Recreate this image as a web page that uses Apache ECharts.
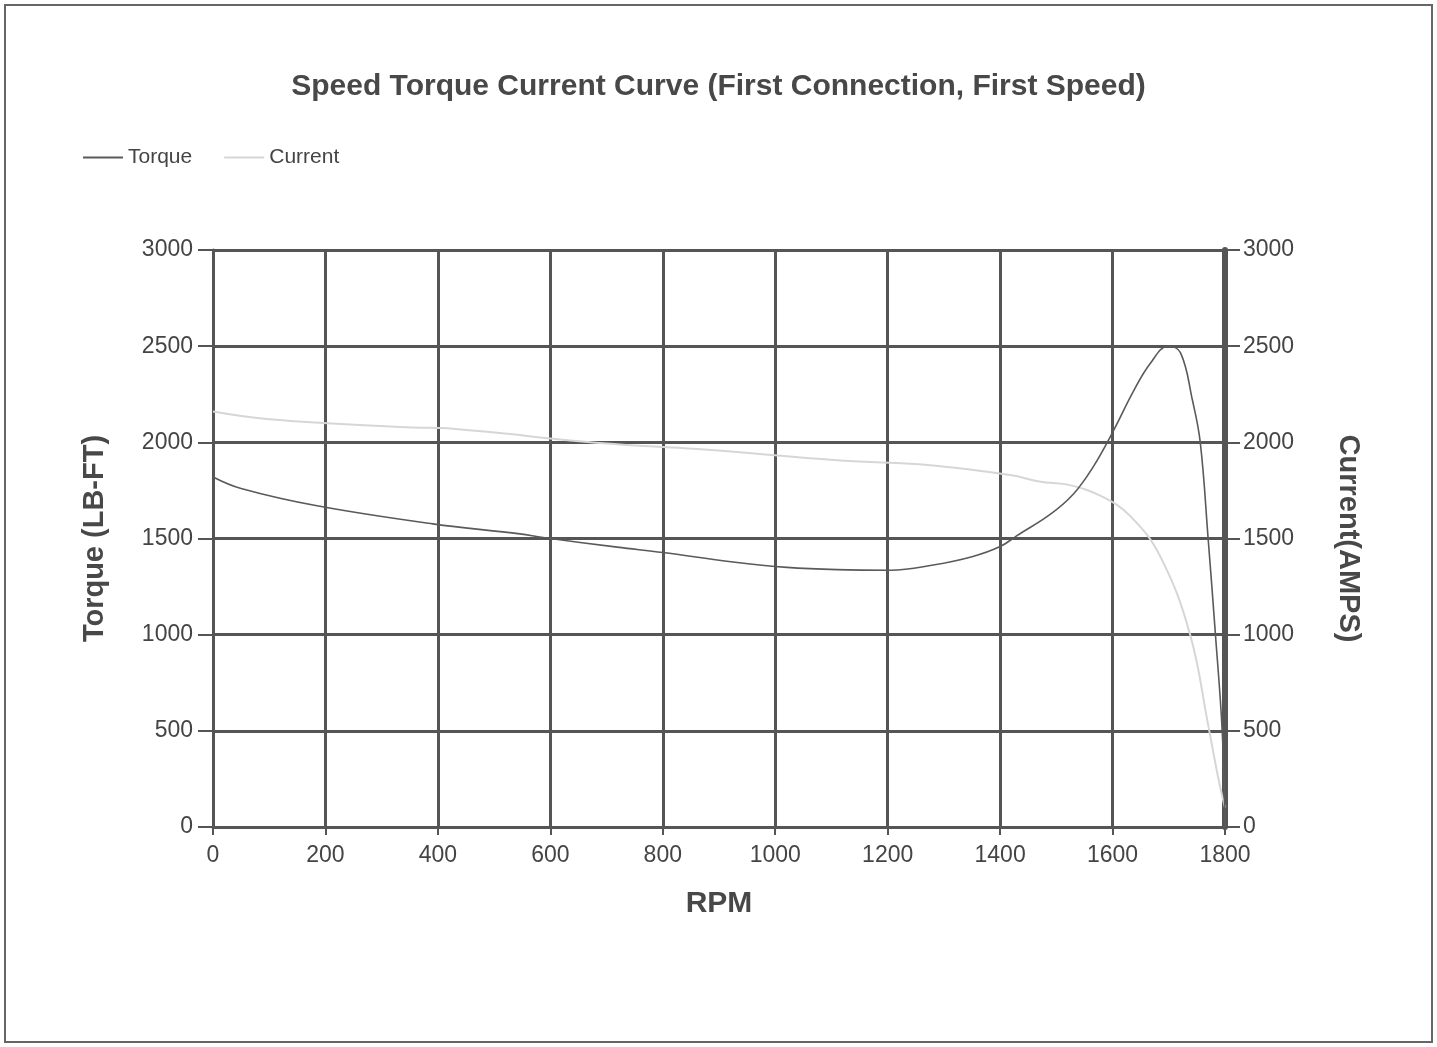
<!DOCTYPE html>
<html>
<head>
<meta charset="utf-8">
<script src="https://cdn.jsdelivr.net/npm/echarts@6/dist/echarts.min.js"></script>
<style>
html,body{margin:0;padding:0;background:#fff;}
#c{width:1437px;height:1047px;}
</style>
</head>
<body>
<div id="c"></div>
<script>
// RPM values and torque (LB-FT)
const torqueRpm = [0, 50, 185, 391, 546, 587, 719, 800, 925, 1021, 1110, 1205, 1281, 1350, 1400, 1430, 1489, 1530, 1565, 1601, 1637, 1667, 1699, 1721, 1742, 1756, 1770, 1783, 1795, 1800];
const torqueVal = [1820, 1760, 1670, 1576, 1524, 1505, 1455, 1427, 1378, 1350, 1338, 1335, 1362, 1405, 1458, 1515, 1625, 1730, 1870, 2057, 2265, 2410, 2500, 2465, 2220, 2000, 1500, 1000, 500, 0];
// RPM values and current (AMPS)
const currentRpm = [0, 100, 345, 427, 694, 861, 1116, 1281, 1418, 1472, 1520, 1580, 1632, 1685, 1738, 1770, 1788, 1800];
const currentVal = [2160, 2120, 2078, 2070, 1995, 1965, 1906, 1880, 1830, 1795, 1780, 1720, 1615, 1406, 1000, 531, 255, 100];
// axis ticks
const xTicks = [0, 200, 400, 600, 800, 1000, 1200, 1400, 1600, 1800];
const yTicks = [0, 500, 1000, 1500, 2000, 2500, 3000];

const pair = (xs, ys) => xs.map((x, i) => [x, ys[i]]);
const FONT = 'Liberation Sans, Arial, sans-serif';
const chart = echarts.init(document.getElementById('c'), null, {renderer: 'canvas'});
const lab = {color: '#444', fontSize: 23, fontFamily: FONT, formatter: v => String(v)};
chart.setOption({
  backgroundColor: '#fff',
  animation: false,
  title: {
    text: 'Speed Torque Current Curve (First Connection, First Speed)',
    left: 'center', top: 67,
    textStyle: {fontFamily: FONT, fontSize: 30, fontWeight: 'bold', color: '#484848'}
  },
  legend: {
    left: 78, top: 142, itemWidth: 40, itemHeight: 12, itemGap: 32,
    icon: 'path://M0,5 L40,5 L40,7 L0,7 Z',
    textStyle: {fontFamily: FONT, fontSize: 21, color: '#444'},
    data: ['Torque', 'Current']
  },
  grid: {left: 213, right: 212, top: 250, bottom: 220, containLabel: false},
  xAxis: {
    type: 'value', min: xTicks[0], max: xTicks[xTicks.length - 1], interval: 200,
    name: 'RPM', nameLocation: 'middle', nameGap: 62,
    nameTextStyle: {fontFamily: FONT, fontSize: 30, fontWeight: 'bold', color: '#484848'},
    axisLine: {lineStyle: {color: '#555', width: 3}},
    axisTick: {show: true, length: 8, lineStyle: {color: '#555', width: 2}},
    axisLabel: Object.assign({margin: 17}, lab),
    splitLine: {show: true, lineStyle: {color: '#555', width: 3}}
  },
  yAxis: [{
    type: 'value', min: yTicks[0], max: yTicks[yTicks.length - 1], interval: 500, position: 'left',
    name: 'Torque (LB-FT)', nameLocation: 'middle', nameGap: 104,
    nameTextStyle: {fontFamily: FONT, fontSize: 29, fontWeight: 'bold', color: '#484848'},
    axisLine: {show: true, lineStyle: {color: '#555', width: 3}},
    axisTick: {show: true, length: 15, lineStyle: {color: '#555', width: 2}},
    axisLabel: Object.assign({margin: 20}, lab),
    splitLine: {show: true, lineStyle: {color: '#555', width: 3}}
  }, {
    type: 'value', min: yTicks[0], max: yTicks[yTicks.length - 1], interval: 500, position: 'right',
    name: 'Current(AMPS)', nameLocation: 'middle', nameGap: 108, nameRotate: -90,
    nameTextStyle: {fontFamily: FONT, fontSize: 29, fontWeight: 'bold', color: '#484848'},
    axisLine: {show: true, lineStyle: {color: '#555', width: 6}},
    axisTick: {show: true, length: 15, lineStyle: {color: '#555', width: 2}},
    axisLabel: Object.assign({margin: 18}, lab),
    splitLine: {show: false}
  }],
  series: [{
    name: 'Torque', type: 'line', yAxisIndex: 0, smooth: 0.4, symbol: 'none',
    lineStyle: {color: '#5a5a5a', width: 1.6}, itemStyle: {color: '#5a5a5a'},
    data: pair(torqueRpm, torqueVal), z: 3
  }, {
    name: 'Current', type: 'line', yAxisIndex: 1, smooth: 0.4, symbol: 'none',
    lineStyle: {color: '#d6d6d6', width: 2}, itemStyle: {color: '#d6d6d6'},
    data: pair(currentRpm, currentVal), z: 2
  }],
  graphic: [{
    type: 'rect', shape: {x: 5, y: 5, width: 1427, height: 1037},
    style: {fill: 'none', stroke: '#666', lineWidth: 2}, silent: true
  }]
});
</script>
</body>
</html>
